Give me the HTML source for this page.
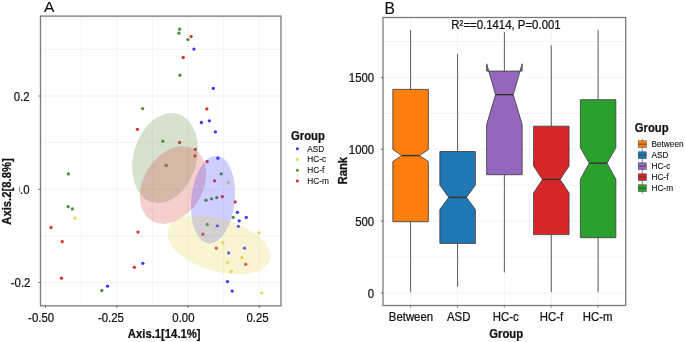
<!DOCTYPE html>
<html><head><meta charset="utf-8"><style>
html,body{margin:0;padding:0;background:#fff;}
svg{display:block;}
text{font-family:"Liberation Sans",sans-serif;}
svg{will-change:transform;}
</style></head><body>
<svg width="685" height="342" viewBox="0 0 685 342">
<rect width="685" height="342" fill="#fff"/>
<line x1="45.50" y1="16.1" x2="45.50" y2="305.8" stroke="#ebebeb" stroke-width="0.6"/>
<line x1="81.13" y1="16.1" x2="81.13" y2="305.8" stroke="#ebebeb" stroke-width="0.6"/>
<line x1="116.77" y1="16.1" x2="116.77" y2="305.8" stroke="#ebebeb" stroke-width="0.6"/>
<line x1="152.40" y1="16.1" x2="152.40" y2="305.8" stroke="#ebebeb" stroke-width="0.6"/>
<line x1="188.03" y1="16.1" x2="188.03" y2="305.8" stroke="#ebebeb" stroke-width="0.6"/>
<line x1="223.67" y1="16.1" x2="223.67" y2="305.8" stroke="#ebebeb" stroke-width="0.6"/>
<line x1="259.30" y1="16.1" x2="259.30" y2="305.8" stroke="#ebebeb" stroke-width="0.6"/>
<line x1="40.5" y1="49.35" x2="281" y2="49.35" stroke="#ebebeb" stroke-width="0.6"/>
<line x1="40.5" y1="96.00" x2="281" y2="96.00" stroke="#ebebeb" stroke-width="0.6"/>
<line x1="40.5" y1="142.65" x2="281" y2="142.65" stroke="#ebebeb" stroke-width="0.6"/>
<line x1="40.5" y1="189.30" x2="281" y2="189.30" stroke="#ebebeb" stroke-width="0.6"/>
<line x1="40.5" y1="235.95" x2="281" y2="235.95" stroke="#ebebeb" stroke-width="0.6"/>
<line x1="40.5" y1="282.60" x2="281" y2="282.60" stroke="#ebebeb" stroke-width="0.6"/>
<circle cx="179.7" cy="29.2" r="1.65" fill="#4f8f3a"/>
<circle cx="178.9" cy="33.2" r="1.65" fill="#4f8f3a"/>
<circle cx="187.9" cy="39.6" r="1.65" fill="#4f8f3a"/>
<circle cx="179.9" cy="75.2" r="1.65" fill="#4f8f3a"/>
<circle cx="142.6" cy="108.6" r="1.65" fill="#4f8f3a"/>
<circle cx="162.8" cy="141.2" r="1.65" fill="#4f8f3a"/>
<circle cx="166.2" cy="165.4" r="1.65" fill="#4f8f3a"/>
<circle cx="221.2" cy="173.8" r="1.65" fill="#4f8f3a"/>
<circle cx="206.0" cy="200.2" r="1.65" fill="#4f8f3a"/>
<circle cx="211.5" cy="198.8" r="1.65" fill="#4f8f3a"/>
<circle cx="216.8" cy="197.7" r="1.65" fill="#4f8f3a"/>
<circle cx="233.2" cy="217.4" r="1.65" fill="#4f8f3a"/>
<circle cx="207.3" cy="224.5" r="1.65" fill="#4f8f3a"/>
<circle cx="68.4" cy="173.9" r="1.65" fill="#4f8f3a"/>
<circle cx="68.2" cy="206.6" r="1.65" fill="#4f8f3a"/>
<circle cx="72.4" cy="208.9" r="1.65" fill="#4f8f3a"/>
<circle cx="101.8" cy="290.5" r="1.65" fill="#4f8f3a"/>
<circle cx="228.4" cy="182.6" r="1.65" fill="#e9d654"/>
<circle cx="75.0" cy="218.2" r="1.65" fill="#e9d654"/>
<circle cx="258.9" cy="232.9" r="1.65" fill="#e9d654"/>
<circle cx="222.9" cy="242.9" r="1.65" fill="#e9d654"/>
<circle cx="241.9" cy="257.5" r="1.65" fill="#e9d654"/>
<circle cx="227.4" cy="262.6" r="1.65" fill="#e9d654"/>
<circle cx="231.3" cy="271.5" r="1.65" fill="#e9d654"/>
<circle cx="261.7" cy="292.8" r="1.65" fill="#e9d654"/>
<circle cx="193.9" cy="49.1" r="1.65" fill="#3a3aff"/>
<circle cx="213.3" cy="88.4" r="1.65" fill="#3a3aff"/>
<circle cx="201.4" cy="122.5" r="1.65" fill="#3a3aff"/>
<circle cx="209.4" cy="120.8" r="1.65" fill="#3a3aff"/>
<circle cx="215.4" cy="131.8" r="1.65" fill="#3a3aff"/>
<circle cx="217.9" cy="158.2" r="1.65" fill="#3a3aff"/>
<circle cx="237.4" cy="212.3" r="1.65" fill="#3a3aff"/>
<circle cx="246.3" cy="217.4" r="1.65" fill="#3a3aff"/>
<circle cx="239.2" cy="220.8" r="1.65" fill="#3a3aff"/>
<circle cx="238.4" cy="226.3" r="1.65" fill="#3a3aff"/>
<circle cx="217.4" cy="225.8" r="1.65" fill="#3a3aff"/>
<circle cx="244.5" cy="248.2" r="1.65" fill="#3a3aff"/>
<circle cx="228.7" cy="252.9" r="1.65" fill="#3a3aff"/>
<circle cx="227.5" cy="281.6" r="1.65" fill="#3a3aff"/>
<circle cx="232.2" cy="291.1" r="1.65" fill="#3a3aff"/>
<circle cx="142.8" cy="263.3" r="1.65" fill="#3a3aff"/>
<circle cx="107.5" cy="286.2" r="1.65" fill="#3a3aff"/>
<circle cx="191.1" cy="36.6" r="1.65" fill="#d6352f"/>
<circle cx="183.2" cy="57.5" r="1.65" fill="#d6352f"/>
<circle cx="137.4" cy="129.3" r="1.65" fill="#d6352f"/>
<circle cx="206.8" cy="108.9" r="1.65" fill="#d6352f"/>
<circle cx="179.6" cy="142.5" r="1.65" fill="#d6352f"/>
<circle cx="195.3" cy="149.3" r="1.65" fill="#d6352f"/>
<circle cx="195.0" cy="155.8" r="1.65" fill="#d6352f"/>
<circle cx="207.1" cy="161.5" r="1.65" fill="#d6352f"/>
<circle cx="214.6" cy="180.8" r="1.65" fill="#d6352f"/>
<circle cx="222.3" cy="196.6" r="1.65" fill="#d6352f"/>
<circle cx="235.2" cy="201.9" r="1.65" fill="#d6352f"/>
<circle cx="202.9" cy="234.2" r="1.65" fill="#d6352f"/>
<circle cx="216.3" cy="248.2" r="1.65" fill="#d6352f"/>
<circle cx="245.7" cy="264.3" r="1.65" fill="#d6352f"/>
<circle cx="51.1" cy="227.4" r="1.65" fill="#d6352f"/>
<circle cx="62.2" cy="241.7" r="1.65" fill="#d6352f"/>
<circle cx="61.5" cy="278.2" r="1.65" fill="#d6352f"/>
<circle cx="138.0" cy="232.1" r="1.65" fill="#d6352f"/>
<circle cx="134.4" cy="267.3" r="1.65" fill="#d6352f"/>
<ellipse cx="165" cy="158" rx="31.6" ry="45.9" transform="rotate(16.1 165 158)" fill="#5a8a3c" fill-opacity="0.25"/>
<ellipse cx="173" cy="185" rx="29.6" ry="41.7" transform="rotate(30.9 173 185)" fill="#d93a3a" fill-opacity="0.25"/>
<ellipse cx="213.0" cy="199.6" rx="21.8" ry="44.0" transform="rotate(5.6 213.0 199.6)" fill="#3a3aff" fill-opacity="0.25"/>
<ellipse cx="218.9" cy="245" rx="53.0" ry="26.4" transform="rotate(16.3 218.9 245)" fill="#e8d44a" fill-opacity="0.25"/>
<rect x="40.5" y="16.1" width="240.5" height="289.7" fill="none" stroke="#7a7a7a" stroke-width="1.3"/>
<line x1="45.5" y1="305.8" x2="45.5" y2="308.0" stroke="#555" stroke-width="0.8"/>
<line x1="116.8" y1="305.8" x2="116.8" y2="308.0" stroke="#555" stroke-width="0.8"/>
<line x1="188.0" y1="305.8" x2="188.0" y2="308.0" stroke="#555" stroke-width="0.8"/>
<line x1="259.3" y1="305.8" x2="259.3" y2="308.0" stroke="#555" stroke-width="0.8"/>
<line x1="38.3" y1="96.0" x2="40.5" y2="96.0" stroke="#555" stroke-width="0.8"/>
<line x1="38.3" y1="189.3" x2="40.5" y2="189.3" stroke="#555" stroke-width="0.8"/>
<line x1="38.3" y1="282.6" x2="40.5" y2="282.6" stroke="#555" stroke-width="0.8"/>
<text x="0" y="0" font-size="11.4" text-anchor="end" fill="#111" stroke="#111" stroke-width="0.22" transform="translate(29.6 101.1) scale(1 1.08)">0.2</text>
<text x="0" y="0" font-size="11.4" text-anchor="end" fill="#111" stroke="#111" stroke-width="0.22" transform="translate(29.6 193.8) scale(1 1.08)">0.0</text>
<text x="0" y="0" font-size="11.4" text-anchor="end" fill="#111" stroke="#111" stroke-width="0.22" transform="translate(30.4 286.6) scale(1 1.08)">-0.2</text>
<rect x="0" y="150" width="19.2" height="80" fill="#fff"/>
<text x="0" y="0" font-size="11.4" text-anchor="middle" fill="#111" stroke="#111" stroke-width="0.22" transform="translate(41.1 322.2) scale(1 1.08)">-0.50</text>
<text x="0" y="0" font-size="11.4" text-anchor="middle" fill="#111" stroke="#111" stroke-width="0.22" transform="translate(110.9 322.2) scale(1 1.08)">-0.25</text>
<text x="0" y="0" font-size="11.4" text-anchor="middle" fill="#111" stroke="#111" stroke-width="0.22" transform="translate(183.4 322.2) scale(1 1.08)">0.00</text>
<text x="0" y="0" font-size="11.4" text-anchor="middle" fill="#111" stroke="#111" stroke-width="0.22" transform="translate(257.55 322.2) scale(1 1.08)">0.25</text>
<text x="0" y="0" font-size="11.3" text-anchor="middle" font-weight="bold" fill="#111" stroke="#111" stroke-width="0.22" transform="translate(164.2 337.8) scale(1 1.08)">Axis.1[14.1%]</text>
<text x="0" y="0" font-size="11.3" text-anchor="middle" font-weight="bold" fill="#111" stroke="#111" stroke-width="0.22" transform="translate(10.6 191.5) rotate(-90) scale(1 1.08)">Axis.2[8.8%]</text>
<text x="0" y="0" font-size="15.6" text-anchor="middle" fill="#111" stroke="#111" stroke-width="0.1" transform="translate(49.2 12.3) scale(1 0.98)">A</text>
<text x="0" y="0" font-size="11.3" text-anchor="start" font-weight="bold" fill="#111" stroke="#111" stroke-width="0.22" transform="translate(291.0 140.2) scale(1 1.08)">Group</text>
<circle cx="297.4" cy="148.80" r="1.5" fill="#3434ff"/>
<text x="0" y="0" font-size="8.3" text-anchor="start" fill="#111" stroke="#111" stroke-width="0.1" transform="translate(307.3 151.60000000000002) scale(1 1.08)">ASD</text>
<circle cx="297.4" cy="159.57" r="1.5" fill="#e8d449"/>
<text x="0" y="0" font-size="8.3" text-anchor="start" fill="#111" stroke="#111" stroke-width="0.1" transform="translate(307.3 162.37000000000003) scale(1 1.08)">HC-c</text>
<circle cx="297.4" cy="170.34" r="1.5" fill="#4a9a2e"/>
<text x="0" y="0" font-size="8.3" text-anchor="start" fill="#111" stroke="#111" stroke-width="0.1" transform="translate(307.3 173.14000000000001) scale(1 1.08)">HC-f</text>
<circle cx="297.4" cy="181.11" r="1.5" fill="#e02a2a"/>
<text x="0" y="0" font-size="8.3" text-anchor="start" fill="#111" stroke="#111" stroke-width="0.1" transform="translate(307.3 183.91000000000003) scale(1 1.08)">HC-m</text>
<line x1="383.0" y1="293.00" x2="625.7" y2="293.00" stroke="#ebebeb" stroke-width="0.6"/>
<line x1="383.0" y1="257.07" x2="625.7" y2="257.07" stroke="#ebebeb" stroke-width="0.6"/>
<line x1="383.0" y1="221.13" x2="625.7" y2="221.13" stroke="#ebebeb" stroke-width="0.6"/>
<line x1="383.0" y1="185.20" x2="625.7" y2="185.20" stroke="#ebebeb" stroke-width="0.6"/>
<line x1="383.0" y1="149.27" x2="625.7" y2="149.27" stroke="#ebebeb" stroke-width="0.6"/>
<line x1="383.0" y1="113.33" x2="625.7" y2="113.33" stroke="#ebebeb" stroke-width="0.6"/>
<line x1="383.0" y1="77.40" x2="625.7" y2="77.40" stroke="#ebebeb" stroke-width="0.6"/>
<line x1="383.0" y1="41.47" x2="625.7" y2="41.47" stroke="#ebebeb" stroke-width="0.6"/>
<line x1="410.6" y1="17.5" x2="410.6" y2="305.5" stroke="#ebebeb" stroke-width="0.6"/>
<line x1="457.5" y1="17.5" x2="457.5" y2="305.5" stroke="#ebebeb" stroke-width="0.6"/>
<line x1="504.3" y1="17.5" x2="504.3" y2="305.5" stroke="#ebebeb" stroke-width="0.6"/>
<line x1="551.2" y1="17.5" x2="551.2" y2="305.5" stroke="#ebebeb" stroke-width="0.6"/>
<line x1="598.0" y1="17.5" x2="598.0" y2="305.5" stroke="#ebebeb" stroke-width="0.6"/>
<line x1="410.6" y1="30.0" x2="410.6" y2="89.4" stroke="#555" stroke-width="0.95"/>
<line x1="410.6" y1="221.7" x2="410.6" y2="292.3" stroke="#555" stroke-width="0.95"/>
<polygon points="392.85,89.40 392.85,149.50 401.73,155.60 392.85,161.50 392.85,221.70 428.35,221.70 428.35,161.50 419.48,155.60 428.35,149.50 428.35,89.40" fill="#ff7f0e" stroke="#404040" stroke-width="0.85" stroke-linejoin="miter"/>
<line x1="401.725" y1="155.6" x2="419.475" y2="155.6" stroke="#333" stroke-width="1.4"/>
<line x1="457.6" y1="54.0" x2="457.6" y2="151.5" stroke="#555" stroke-width="0.95"/>
<line x1="457.6" y1="243.4" x2="457.6" y2="286.8" stroke="#555" stroke-width="0.95"/>
<polygon points="439.85,151.50 439.85,185.10 448.73,197.40 439.85,209.40 439.85,243.40 475.35,243.40 475.35,209.40 466.48,197.40 475.35,185.10 475.35,151.50" fill="#1f77b4" stroke="#404040" stroke-width="0.85" stroke-linejoin="miter"/>
<line x1="448.725" y1="197.4" x2="466.475" y2="197.4" stroke="#333" stroke-width="1.4"/>
<line x1="504.4" y1="32.1" x2="504.4" y2="71.1" stroke="#555" stroke-width="0.95"/>
<line x1="504.4" y1="174.7" x2="504.4" y2="272.4" stroke="#555" stroke-width="0.95"/>
<polygon points="486.65,71.10 486.65,63.80 495.52,94.70 486.65,124.50 486.65,174.70 522.15,174.70 522.15,124.50 513.27,94.70 522.15,63.80 522.15,71.10" fill="#9467bd" stroke="#404040" stroke-width="0.85" stroke-linejoin="miter"/>
<line x1="495.525" y1="94.7" x2="513.275" y2="94.7" stroke="#333" stroke-width="1.4"/>
<line x1="551.3" y1="45.4" x2="551.3" y2="126.2" stroke="#555" stroke-width="0.95"/>
<line x1="551.3" y1="234.6" x2="551.3" y2="292.2" stroke="#555" stroke-width="0.95"/>
<polygon points="533.55,126.20 533.55,166.00 542.42,179.50 533.55,193.00 533.55,234.60 569.05,234.60 569.05,193.00 560.17,179.50 569.05,166.00 569.05,126.20" fill="#d62728" stroke="#404040" stroke-width="0.85" stroke-linejoin="miter"/>
<line x1="542.425" y1="179.5" x2="560.175" y2="179.5" stroke="#333" stroke-width="1.4"/>
<line x1="598.1" y1="30.1" x2="598.1" y2="99.7" stroke="#555" stroke-width="0.95"/>
<line x1="598.1" y1="237.7" x2="598.1" y2="292.2" stroke="#555" stroke-width="0.95"/>
<polygon points="580.35,99.70 580.35,147.70 589.23,163.20 580.35,179.20 580.35,237.70 615.85,237.70 615.85,179.20 606.98,163.20 615.85,147.70 615.85,99.70" fill="#2ca02c" stroke="#404040" stroke-width="0.85" stroke-linejoin="miter"/>
<line x1="589.225" y1="163.2" x2="606.975" y2="163.2" stroke="#333" stroke-width="1.4"/>
<rect x="383.0" y="17.5" width="242.70000000000005" height="288.0" fill="none" stroke="#7a7a7a" stroke-width="1.3"/>
<line x1="410.6" y1="305.5" x2="410.6" y2="307.7" stroke="#555" stroke-width="0.8"/>
<line x1="457.5" y1="305.5" x2="457.5" y2="307.7" stroke="#555" stroke-width="0.8"/>
<line x1="504.3" y1="305.5" x2="504.3" y2="307.7" stroke="#555" stroke-width="0.8"/>
<line x1="551.2" y1="305.5" x2="551.2" y2="307.7" stroke="#555" stroke-width="0.8"/>
<line x1="598.0" y1="305.5" x2="598.0" y2="307.7" stroke="#555" stroke-width="0.8"/>
<line x1="380.8" y1="293.00" x2="383.0" y2="293.00" stroke="#555" stroke-width="0.8"/>
<text x="0" y="0" font-size="11.4" text-anchor="end" fill="#111" stroke="#111" stroke-width="0.22" transform="translate(374.2 297.6) scale(1 1.08)">0</text>
<line x1="380.8" y1="221.13" x2="383.0" y2="221.13" stroke="#555" stroke-width="0.8"/>
<text x="0" y="0" font-size="11.4" text-anchor="end" fill="#111" stroke="#111" stroke-width="0.22" transform="translate(374.2 225.73333333333332) scale(1 1.08)">500</text>
<line x1="380.8" y1="149.27" x2="383.0" y2="149.27" stroke="#555" stroke-width="0.8"/>
<text x="0" y="0" font-size="11.4" text-anchor="end" fill="#111" stroke="#111" stroke-width="0.22" transform="translate(374.2 153.86666666666667) scale(1 1.08)">1000</text>
<line x1="380.8" y1="77.40" x2="383.0" y2="77.40" stroke="#555" stroke-width="0.8"/>
<text x="0" y="0" font-size="11.4" text-anchor="end" fill="#111" stroke="#111" stroke-width="0.22" transform="translate(374.2 82.0) scale(1 1.08)">1500</text>
<text x="0" y="0" font-size="11.4" text-anchor="middle" fill="#111" stroke="#111" stroke-width="0.22" transform="translate(506.0 29.3) scale(1 1.08)">R²==0.1414, P=0.001</text>
<text x="0" y="0" font-size="11.4" text-anchor="middle" fill="#111" stroke="#111" stroke-width="0.22" transform="translate(410.95 321.3) scale(1 1.08)">Between</text>
<text x="0" y="0" font-size="11.4" text-anchor="middle" fill="#111" stroke="#111" stroke-width="0.22" transform="translate(458.65 321.3) scale(1 1.08)">ASD</text>
<text x="0" y="0" font-size="11.4" text-anchor="middle" fill="#111" stroke="#111" stroke-width="0.22" transform="translate(505.65 321.3) scale(1 1.08)">HC-c</text>
<text x="0" y="0" font-size="11.4" text-anchor="middle" fill="#111" stroke="#111" stroke-width="0.22" transform="translate(551.45 321.3) scale(1 1.08)">HC-f</text>
<text x="0" y="0" font-size="11.4" text-anchor="middle" fill="#111" stroke="#111" stroke-width="0.22" transform="translate(597.5999999999999 321.3) scale(1 1.08)">HC-m</text>
<text x="0" y="0" font-size="11.3" text-anchor="middle" font-weight="bold" fill="#111" stroke="#111" stroke-width="0.22" transform="translate(506.2 337.8) scale(1 1.08)">Group</text>
<text x="0" y="0" font-size="11.3" text-anchor="middle" font-weight="bold" fill="#111" stroke="#111" stroke-width="0.22" transform="translate(346.7 170.7) rotate(-90) scale(1 1.08)">Rank</text>
<text x="0" y="0" font-size="15.6" text-anchor="middle" fill="#111" stroke="#111" stroke-width="0.15" transform="translate(389.7 13.9) scale(1 1.0)">B</text>
<text x="0" y="0" font-size="11.3" text-anchor="start" font-weight="bold" fill="#111" stroke="#111" stroke-width="0.22" transform="translate(634.8 132.4) scale(1 1.08)">Group</text>
<line x1="642.25" y1="138.60" x2="642.25" y2="149.80" stroke="#404040" stroke-width="0.6"/>
<rect x="638.2" y="140.80" width="8.1" height="6.8" fill="#ff7f0e" stroke="#404040" stroke-width="0.5"/>
<line x1="638.2" y1="144.20" x2="646.3" y2="144.20" stroke="#404040" stroke-width="0.8"/>
<text x="0" y="0" font-size="8.3" text-anchor="start" fill="#111" stroke="#111" stroke-width="0.1" transform="translate(651.4 146.5) scale(1 1.08)">Between</text>
<line x1="642.25" y1="149.60" x2="642.25" y2="160.80" stroke="#404040" stroke-width="0.6"/>
<rect x="638.2" y="151.80" width="8.1" height="6.8" fill="#1f77b4" stroke="#404040" stroke-width="0.5"/>
<line x1="638.2" y1="155.20" x2="646.3" y2="155.20" stroke="#404040" stroke-width="0.8"/>
<text x="0" y="0" font-size="8.3" text-anchor="start" fill="#111" stroke="#111" stroke-width="0.1" transform="translate(651.4 157.5) scale(1 1.08)">ASD</text>
<line x1="642.25" y1="160.60" x2="642.25" y2="171.80" stroke="#404040" stroke-width="0.6"/>
<rect x="638.2" y="162.80" width="8.1" height="6.8" fill="#9467bd" stroke="#404040" stroke-width="0.5"/>
<line x1="638.2" y1="166.20" x2="646.3" y2="166.20" stroke="#404040" stroke-width="0.8"/>
<text x="0" y="0" font-size="8.3" text-anchor="start" fill="#111" stroke="#111" stroke-width="0.1" transform="translate(651.4 168.5) scale(1 1.08)">HC-c</text>
<line x1="642.25" y1="171.60" x2="642.25" y2="182.80" stroke="#404040" stroke-width="0.6"/>
<rect x="638.2" y="173.80" width="8.1" height="6.8" fill="#d62728" stroke="#404040" stroke-width="0.5"/>
<line x1="638.2" y1="177.20" x2="646.3" y2="177.20" stroke="#404040" stroke-width="0.8"/>
<text x="0" y="0" font-size="8.3" text-anchor="start" fill="#111" stroke="#111" stroke-width="0.1" transform="translate(651.4 179.5) scale(1 1.08)">HC-f</text>
<line x1="642.25" y1="182.60" x2="642.25" y2="193.80" stroke="#404040" stroke-width="0.6"/>
<rect x="638.2" y="184.80" width="8.1" height="6.8" fill="#2ca02c" stroke="#404040" stroke-width="0.5"/>
<line x1="638.2" y1="188.20" x2="646.3" y2="188.20" stroke="#404040" stroke-width="0.8"/>
<text x="0" y="0" font-size="8.3" text-anchor="start" fill="#111" stroke="#111" stroke-width="0.1" transform="translate(651.4 190.5) scale(1 1.08)">HC-m</text>
</svg></body></html>
